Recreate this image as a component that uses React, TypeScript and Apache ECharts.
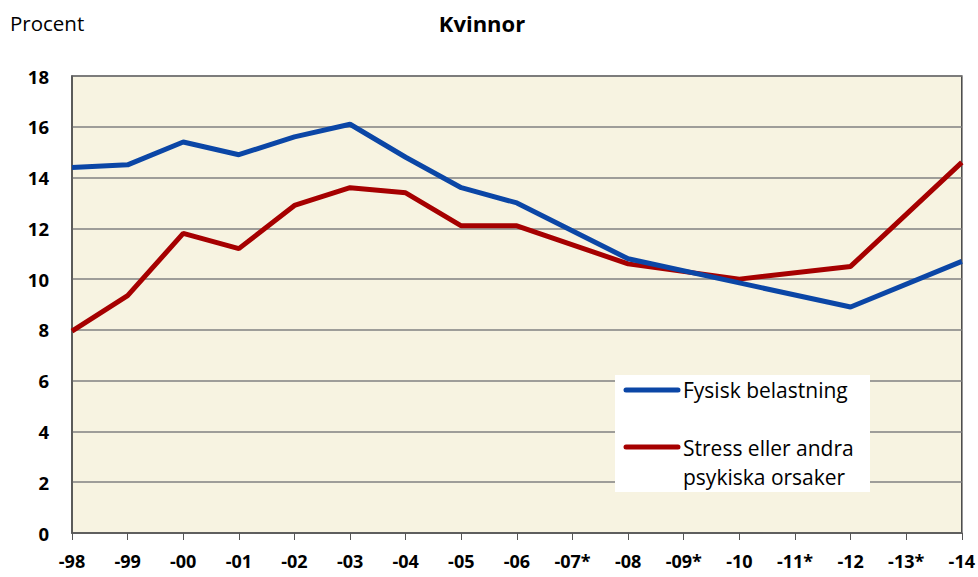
import React, { useEffect, useRef } from "react";
import * as echarts from "echarts";

const categories = ["-98", "-99", "-00", "-01", "-02", "-03", "-04", "-05", "-06", "-07*", "-08", "-09*", "-10", "-11*", "-12", "-13*", "-14"];
const fysisk = [14.4, 14.5, 15.4, 14.9, 15.6, 16.1, 14.8, 13.6, 13.0, null, 10.8, null, 9.85, null, 8.9, null, 10.7];
const stress = [7.95, 9.35, 11.8, 11.2, 12.9, 13.6, 13.4, 12.1, 12.1, null, 10.6, null, 10.0, null, 10.5, null, 14.6];
const yTicks = [0, 2, 4, 6, 8, 10, 12, 14, 16, 18];

const BLUE = "#0B46A6";
const RED = "#A60000";
const FONT = "'Open Sans', 'Noto Sans', sans-serif";

export default function App() {
  const ref = useRef<HTMLDivElement>(null);
  useEffect(() => {
    const chart = echarts.init(ref.current!, null, { renderer: "svg" });
    const legendText = (text: string, y: number) => ({
      type: "text",
      x: 68,
      y,
      z: 102,
      style: { text, fontFamily: FONT, fontSize: 21, fill: "#000", verticalAlign: "middle" },
    });
    chart.setOption({
      animation: false,
      backgroundColor: "#ffffff",
      grid: {
        left: 72,
        right: 16,
        top: 76,
        bottom: 44,
        show: true,
        backgroundColor: "#F7F3E1",
        borderColor: "#444",
        borderWidth: 1.5,
      },
      xAxis: {
        type: "category",
        data: categories,
        boundaryGap: false,
        axisLine: { show: true, lineStyle: { color: "#555", width: 1.5 } },
        axisTick: { show: true, alignWithLabel: true, length: 7, lineStyle: { color: "#555" } },
        axisLabel: {
          interval: 0,
          margin: 18,
          fontFamily: FONT,
          fontWeight: "bold",
          fontSize: 18,
          lineHeight: 20,
          color: "#000",
        },
        splitLine: { show: false },
      },
      yAxis: {
        type: "value",
        min: yTicks[0],
        max: yTicks[yTicks.length - 1],
        interval: 2,
        axisLine: { show: true, lineStyle: { color: "#555", width: 1.5 } },
        axisTick: { show: false },
        axisLabel: {
          margin: 23,
          fontFamily: FONT,
          fontWeight: "bold",
          fontSize: 18.5,
          color: "#000",
        },
        splitLine: { show: true, lineStyle: { color: "#808080", width: 1.5 } },
      },
      series: [
        {
          name: "Fysisk belastning",
          type: "line",
          data: fysisk,
          connectNulls: true,
          showSymbol: false,
          symbol: "none",
          lineStyle: { color: BLUE, width: 5 },
          z: 3,
        },
        {
          name: "Stress eller andra psykiska orsaker",
          type: "line",
          data: stress,
          connectNulls: true,
          showSymbol: false,
          symbol: "none",
          lineStyle: { color: RED, width: 5 },
          z: 2,
        },
      ],
      graphic: [
        {
          type: "text",
          x: 10,
          y: 23,
          style: { text: "Procent", fontFamily: FONT, fontSize: 20.5, fill: "#000", verticalAlign: "middle" },
        },
        {
          type: "text",
          x: 482,
          y: 23,
          style: {
            text: "Kvinnor",
            fontFamily: FONT,
            fontWeight: "bold",
            fontSize: 22,
            fill: "#000",
            align: "center",
            verticalAlign: "middle",
          },
        },
        {
          type: "group",
          x: 615,
          y: 375,
          z: 100,
          children: [
            { type: "rect", z: 100, shape: { x: 0, y: 0, width: 255, height: 117 }, style: { fill: "#ffffff" } },
            { type: "line", z: 101, shape: { x1: 11, y1: 15, x2: 63, y2: 15 }, style: { stroke: BLUE, lineWidth: 5, lineCap: "round" } },
            legendText("Fysisk belastning", 15),
            { type: "line", z: 101, shape: { x1: 11, y1: 72, x2: 63, y2: 72 }, style: { stroke: RED, lineWidth: 5, lineCap: "round" } },
            legendText("Stress eller andra", 73),
            legendText("psykiska orsaker", 102),
          ],
        },
      ],
    });
    return () => chart.dispose();
  }, []);
  return <div ref={ref} style={{ position: "fixed", left: 0, top: 0, width: 978, height: 577 }} />;
}
